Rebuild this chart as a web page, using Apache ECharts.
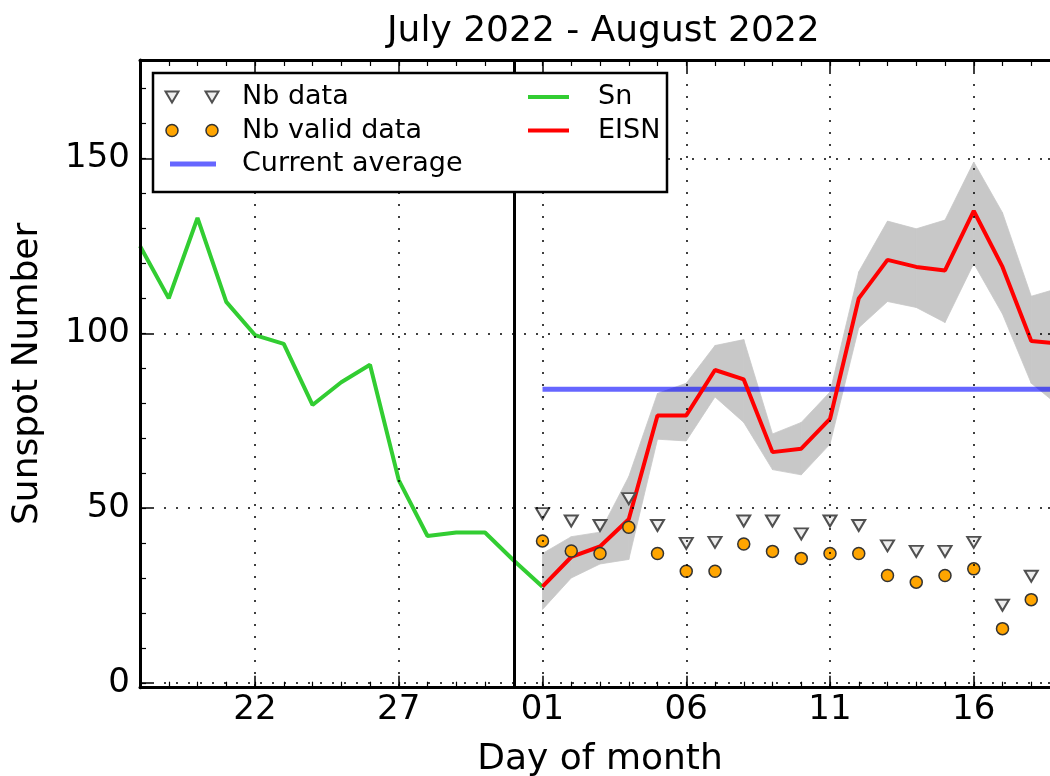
<!DOCTYPE html>
<html><head><meta charset="utf-8">
<script src="https://cdn.jsdelivr.net/npm/echarts@6/dist/echarts.min.js"></script>
<style>html,body{margin:0;padding:0;background:#fff}#chart{width:1050px;height:776px}</style>
</head><body><div id="chart"></div>
<script>
// ---------------- data (x = day number counted from 1 July 2022 = 1, so 1 Aug = 32) ----------------
const titleText = 'July 2022 - August 2022';
const xName = 'Day of month';
const yName = 'Sunspot Number';

const snDays   = [18,19,20,21,22,23,24,25,26,27,28,29,30,31,32];
const snValues = [125,110,133,109,99.5,97,79.5,86,91,58,42,43,43,35,27.5];

const eisnDays   = [32,33,34,35,36,37,38,39,40,41,42,43,44,45,46,47,48,49,50];
const eisnValues = [27.5,36,39,46.8,76.5,76.5,89.5,86.8,66,67,75.5,110,121,119,118,135,119,97.8,97];
const eisnLow    = [21,30,34,35.3,69.7,69.2,81.8,74.5,61,59.5,68.3,101.6,109.1,107.4,103.1,120,105.5,85.7,79];
const eisnHigh   = [37,41.8,43.1,59,82.8,85.7,96.5,98.2,71.2,74.5,83.2,117.6,132.1,129.9,132.4,149,134.5,110.6,113];

const nbDays       = [32,33,34,35,36,37,38,39,40,41,42,43,44,45,46,47,48,49];
const nbData       = [48.4,46.3,45,52.7,45,39.9,40.2,46.3,46.3,42.6,46.3,45,39.2,37.6,37.6,40.2,22.2,30.5];
const nbValidData  = [40.6,37.7,37,44.5,37,31.9,31.9,39.7,37.6,35.6,37,37,30.7,28.8,30.7,32.6,15.5,23.8];

const avgValue = 84;
const avgDays  = [32, 50];
const monthBoundaryDay = 31;

const xRange = [18, 50];
const yRange = [-1.4, 178.2];
const xMajorTicks = [22, 27, 32, 37, 42, 47];
const xMinorTicks = [18,19,20,21,22,23,24,25,26,27,28,29,30,31,32,33,34,35,36,37,38,39,40,41,42,43,44,45,46,47,48,49,50];
const yMajorTicks = [0, 50, 100, 150];
const yMinorTicks = [0,10,20,30,40,50,60,70,80,90,100,110,120,130,140,150,160,170];

// ---------------- chart ----------------
const FONT = 'DejaVu Sans';
const pair = (xs, ys) => xs.map((x, i) => [x, ys[i]]);
const dayLabel = v => { const d = v > 31 ? v - 31 : v; return (d < 10 ? '0' : '') + d; };

const chart = echarts.init(document.getElementById('chart'), null, {renderer: 'canvas'});

function majorX(pos, withLabel) {
  return {
    type: 'value', position: pos, min: xRange[0], max: xRange[1], z: 5,
    axisLine: {show: true, onZero: false, lineStyle: {color: '#000', width: 3}},
    axisTick: {show: true, inside: true, length: 12, lineStyle: {color: '#000', width: 1.5}, customValues: xMajorTicks},
    axisLabel: {show: withLabel, customValues: xMajorTicks, formatter: dayLabel, color: '#000', fontFamily: FONT, fontSize: 34, margin: 5},
    splitLine: {show: withLabel, lineStyle: {color: '#000', width: 1.5, type: [2, 10]}},
    name: withLabel ? xName : '', nameLocation: 'middle', nameGap: 54,
    nameTextStyle: {color: '#000', fontFamily: FONT, fontSize: 36}
  };
}
function minorX(pos) {
  return {
    type: 'value', position: pos, min: xRange[0], max: xRange[1], z: 5,
    axisLine: {show: false, onZero: false},
    axisTick: {show: true, inside: true, length: 6, lineStyle: {color: '#000', width: 1.2}, customValues: xMinorTicks},
    axisLabel: {show: false}, splitLine: {show: false}
  };
}
function majorY(pos, withLabel) {
  return {
    type: 'value', position: pos, min: yRange[0], max: yRange[1], z: 5,
    axisLine: {show: true, onZero: false, lineStyle: {color: '#000', width: 3}},
    axisTick: {show: true, inside: true, length: 12, lineStyle: {color: '#000', width: 1.5}, customValues: yMajorTicks},
    axisLabel: {show: withLabel, customValues: yMajorTicks, color: '#000', fontFamily: FONT, fontSize: 34, margin: 10},
    splitLine: {show: withLabel, lineStyle: {color: '#000', width: 1.5, type: [2, 10]}},
    name: withLabel ? yName : '', nameLocation: 'middle', nameGap: 94, nameRotate: 90,
    nameTextStyle: {color: '#000', fontFamily: FONT, fontSize: 36}
  };
}
function minorY(pos) {
  return {
    type: 'value', position: pos, min: yRange[0], max: yRange[1], z: 5,
    axisLine: {show: false, onZero: false},
    axisTick: {show: true, inside: true, length: 6, lineStyle: {color: '#000', width: 1.2}, customValues: yMinorTicks},
    axisLabel: {show: false}, splitLine: {show: false}
  };
}

const legendItems = [];
const L = {z: 100};
legendItems.push(Object.assign({type: 'rect', shape: {x: 153, y: 73, width: 514, height: 119}, style: {fill: '#fff', stroke: '#000', lineWidth: 2.5}}, L));
[172, 212].forEach(cx => {
  legendItems.push(Object.assign({type: 'polygon', shape: {points: [[cx - 6.5, 91.5], [cx + 6.5, 91.5], [cx, 102.5]]}, style: {fill: '#eeeeee', stroke: '#505050', lineWidth: 2}}, L));
  legendItems.push(Object.assign({type: 'circle', shape: {cx: cx, cy: 130.5, r: 6}, style: {fill: '#ffa500', stroke: '#333', lineWidth: 1.5}}, L));
});
legendItems.push(Object.assign({type: 'line', shape: {x1: 170, y1: 164, x2: 216, y2: 164}, style: {stroke: 'rgba(0,0,255,0.6)', lineWidth: 5}}, L));
legendItems.push(Object.assign({type: 'line', shape: {x1: 528, y1: 97, x2: 569, y2: 97}, style: {stroke: '#32cd32', lineWidth: 4}}, L));
legendItems.push(Object.assign({type: 'line', shape: {x1: 528, y1: 130.5, x2: 569, y2: 130.5}, style: {stroke: '#ff0000', lineWidth: 4}}, L));
[['Nb data', 242, 97], ['Nb valid data', 242, 130.5], ['Current average', 242, 164], ['Sn', 598, 97], ['EISN', 598, 130.5]].forEach(t => {
  legendItems.push(Object.assign({type: 'text', x: t[1], y: t[2], style: {text: t[0], fill: '#000', font: '27px "DejaVu Sans"', verticalAlign: 'middle', align: 'left'}}, L));
});

// band segments: each item spans day i .. day i+1
const bandData = eisnDays.slice(0, -1).map((d, i) => [d, eisnLow[i], eisnHigh[i], eisnDays[i + 1], eisnLow[i + 1], eisnHigh[i + 1]]);

const option = {
  backgroundColor: '#fff',
  animation: false,
  title: {text: titleText, left: 382, top: 9, textStyle: {color: '#000', fontFamily: FONT, fontSize: 36, fontWeight: 'normal'}},
  grid: {left: 140, top: 60, width: 920, height: 627.7, containLabel: false, outerBoundsMode: 'none'},
  xAxis: [majorX('bottom', true), minorX('bottom'), majorX('top', false), minorX('top')],
  yAxis: [majorY('left', true), minorY('left'), majorY('right', false), minorY('right')],
  graphic: legendItems,
  series: [
    {name: 'EISN range', type: 'custom', silent: true, z: 1, clip: true,
     data: bandData,
     encode: {x: [0, 3], y: [1, 2, 4, 5]},
     renderItem: (params, api) => {
       const p1 = api.coord([api.value(0), api.value(1)]);
       const p2 = api.coord([api.value(0), api.value(2)]);
       const p3 = api.coord([api.value(3), api.value(5)]);
       const p4 = api.coord([api.value(3), api.value(4)]);
       return {type: 'polygon', shape: {points: [p1, p2, p3, p4]},
               style: {fill: '#c8c8c8', stroke: '#c8c8c8', lineWidth: 0.8}};
     }},
    {name: 'Current average', type: 'line', data: pair(avgDays, avgDays.map(() => avgValue)), symbol: 'none',
     lineStyle: {color: 'rgba(0,0,255,0.6)', width: 5}, z: 2},
    {name: 'Sn', type: 'line', data: pair(snDays, snValues), symbol: 'none',
     lineStyle: {color: '#32cd32', width: 4}, z: 3,
     markLine: {symbol: ['none', 'none'], silent: true, label: {show: false},
       lineStyle: {color: '#000', width: 3, type: 'solid'}, data: [{xAxis: monthBoundaryDay}]}},
    {name: 'EISN', type: 'line', data: pair(eisnDays, eisnValues), symbol: 'none',
     lineStyle: {color: '#ff0000', width: 4}, z: 3},
    {name: 'Nb data', type: 'scatter', data: pair(nbDays, nbData), symbol: 'triangle', symbolRotate: 180, symbolSize: [13, 11],
     itemStyle: {color: '#eeeeee', borderColor: '#505050', borderWidth: 2, opacity: 1}, z: 4},
    {name: 'Nb valid data', type: 'scatter', data: pair(nbDays, nbValidData), symbol: 'circle', symbolSize: 12,
     itemStyle: {color: '#ffa500', borderColor: '#333', borderWidth: 1.5, opacity: 1}, z: 4}
  ]
};
chart.setOption(option);
</script></body></html>
